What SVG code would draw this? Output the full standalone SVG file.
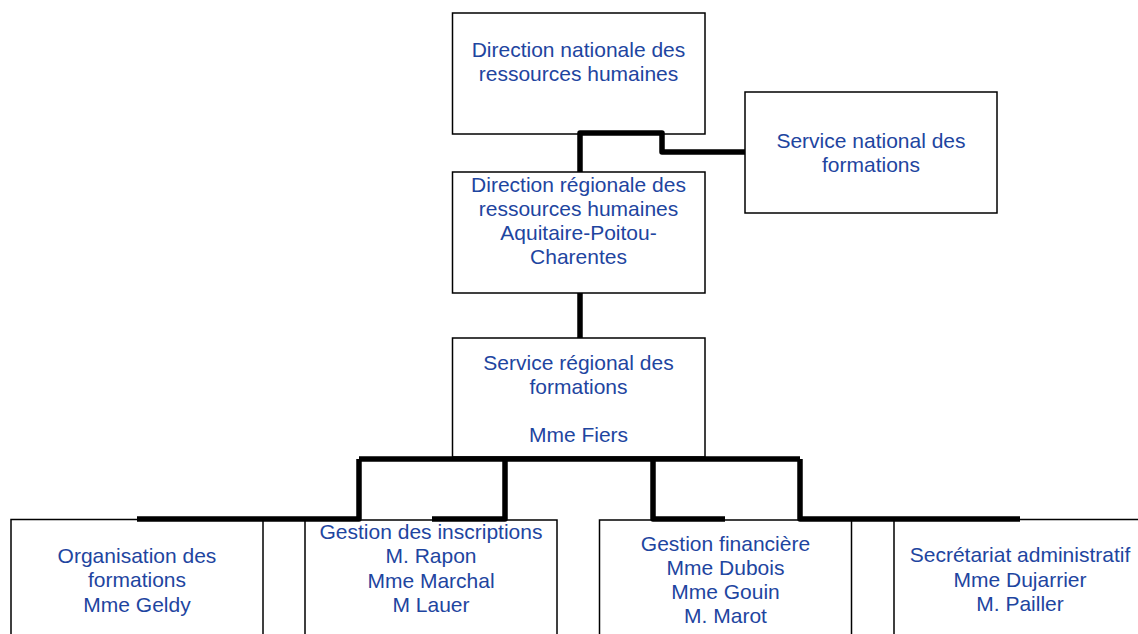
<svg xmlns="http://www.w3.org/2000/svg" width="1138" height="634" viewBox="0 0 1138 634">
<style>
.box{fill:#fff;stroke:#000;stroke-width:1.5}
.lbl{font-family:"Liberation Sans",Arial,sans-serif;font-size:21px;fill:#1e45a0;text-anchor:middle}
.conn{fill:none;stroke:#000;stroke-width:5.5;stroke-linejoin:round}
</style>
<rect width="1138" height="634" fill="#fff"/>
<g id="n-dnrh">
<rect class="box" x="452.5" y="13" width="252.5" height="121"/>
<text class="lbl"><tspan x="578.5" y="57">Direction nationale des</tspan><tspan x="578.5" y="81">ressources humaines</tspan></text>
</g>
<g id="n-snf">
<rect class="box" x="745" y="92" width="252" height="121"/>
<text class="lbl"><tspan x="871" y="148">Service national des</tspan><tspan x="871" y="172">formations</tspan></text>
</g>
<g id="n-drrh">
<rect class="box" x="452.5" y="172" width="252.5" height="121"/>
<text class="lbl"><tspan x="578.5" y="191.5">Direction régionale des</tspan><tspan x="578.5" y="215.5">ressources humaines</tspan><tspan x="578.5" y="239.5">Aquitaire-Poitou-</tspan><tspan x="578.5" y="263.5">Charentes</tspan></text>
</g>
<g id="n-srf">
<rect class="box" x="452.5" y="338" width="252.5" height="119"/>
<text class="lbl"><tspan x="578.5" y="370">Service régional des</tspan><tspan x="578.5" y="394">formations</tspan><tspan x="578.5" y="442">Mme Fiers</tspan></text>
</g>
<g id="n-org">
<rect class="box" x="11" y="519.5" width="252" height="130"/>
<text class="lbl"><tspan x="137" y="563">Organisation des</tspan><tspan x="137" y="587">formations</tspan><tspan x="137" y="611.5">Mme Geldy</tspan></text>
</g>
<g id="n-ins">
<rect class="box" x="305" y="520" width="252" height="130"/>
<text class="lbl"><tspan x="431" y="539">Gestion des inscriptions</tspan><tspan x="431" y="563">M. Rapon</tspan><tspan x="431" y="588">Mme Marchal</tspan><tspan x="431" y="612">M Lauer</tspan></text>
</g>
<g id="n-fin">
<rect class="box" x="599.5" y="520" width="252" height="130"/>
<text class="lbl"><tspan x="725.5" y="550.5">Gestion financière</tspan><tspan x="725.5" y="575">Mme Dubois</tspan><tspan x="725.5" y="599">Mme Gouin</tspan><tspan x="725.5" y="623">M. Marot</tspan></text>
</g>
<g id="n-sec">
<rect class="box" x="894" y="519.5" width="252" height="130"/>
<text class="lbl"><tspan x="1020" y="561.5">Secrétariat administratif</tspan><tspan x="1020" y="586.5">Mme Dujarrier</tspan><tspan x="1020" y="611">M. Pailler</tspan></text>
</g>
<g id="connectors">
<path class="conn" d="M580,172 V133 H662 V152 H745"/>
<path class="conn" d="M580,293 V338"/>
<path class="conn" d="M359,459 H800"/>
<path class="conn" d="M359,459 V519 H137"/>
<path class="conn" d="M505,459 V519 H432"/>
<path class="conn" d="M653,459 V519 H725"/>
<path class="conn" d="M800,459 V519 H1020"/>
</g>
</svg>
